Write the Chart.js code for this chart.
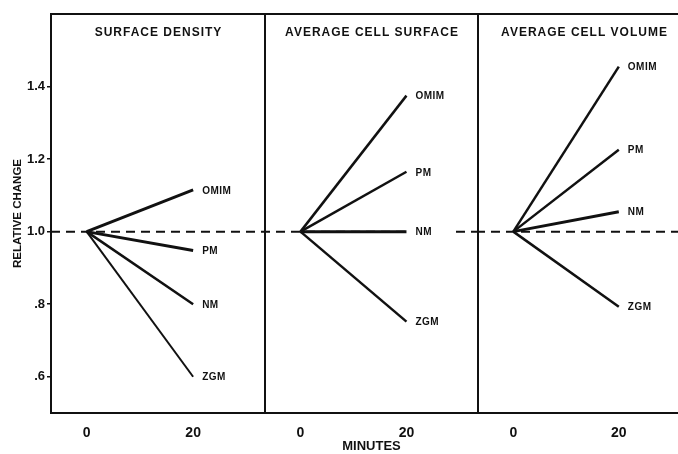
<!DOCTYPE html>
<html>
<head>
<meta charset="utf-8">
<script src="https://cdn.jsdelivr.net/npm/chart.js@4"></script>
<style>
  html, body { margin:0; padding:0; background:#fff; width:678px; height:454px; overflow:hidden; }
  .panel { position:absolute; top:0; height:454px; }
</style>
</head>
<body>
<div class="panel" id="p1" style="left:0px;width:268px"><canvas id="c1"></canvas></div>
<div class="panel" id="p2" style="left:262px;width:219px"><canvas id="c2"></canvas></div>
<div class="panel" id="p3" style="left:475px;width:215px"><canvas id="c3"></canvas></div>
<script>
// ---- data ----
const MINUTES = [0, 20];
const SERIES = ['OMIM', 'PM', 'NM', 'ZGM'];
const PANEL_TITLES = ['SURFACE DENSITY', 'AVERAGE CELL SURFACE', 'AVERAGE CELL VOLUME'];
const START_VALUE = 1.0;             // relative value at 0 minutes
const SURFACE_DENSITY = [1.115, 0.948, 0.80, 0.60];   // at 20 min
const AVG_CELL_SURFACE = [1.375, 1.165, 1.0, 0.752];  // at 20 min
const AVG_CELL_VOLUME = [1.455, 1.226, 1.055, 0.793]; // at 20 min
const Y_TICKS = [0.6, 0.8, 1.0, 1.2, 1.4];
const Y_TICK_LABELS = ['.6', '.8', '1.0', '1.2', '1.4'];
const X_TICKS = [0, 20];
const X_TICK_LABELS = ['0', '20'];
const REFERENCE = 1.0;

const FONT = "'Liberation Sans', Arial, sans-serif";
const INK = '#111';

const panelPlugin = {
  id: 'panelDecor',
  beforeDatasetsDraw(chart, args, opts) {
    const {ctx, chartArea: a, scales: {y}} = chart;
    ctx.save();
    const yr = y.getPixelForValue(REFERENCE);
    ctx.strokeStyle = INK;
    ctx.lineWidth = 2;
    ctx.setLineDash([9, 6]);
    ctx.lineDashOffset = opts.dashOffset || 0;
    ctx.beginPath();
    ctx.moveTo(a.left, yr);
    ctx.lineTo(a.right, yr);
    ctx.stroke();
    ctx.restore();
  },
  afterDatasetsDraw(chart, args, opts) {
    const {ctx, chartArea: a} = chart;
    ctx.save();
    ctx.strokeStyle = INK;
    ctx.lineWidth = 2;
    ctx.strokeRect(a.left, a.top, a.right - a.left, a.bottom - a.top);
    ctx.fillStyle = INK;
    ctx.font = 'bold 12px ' + FONT;
    if ('letterSpacing' in ctx) ctx.letterSpacing = '1px';
    ctx.textAlign = 'center';
    ctx.textBaseline = 'middle';
    ctx.fillText(opts.title, (a.left + a.right) / 2 + 0.5, a.top + 19);
    ctx.font = 'bold 10px ' + FONT;
    if ('letterSpacing' in ctx) ctx.letterSpacing = '0.5px';
    ctx.textAlign = 'left';
    chart.data.datasets.forEach((ds, i) => {
      const pts = chart.getDatasetMeta(i).data;
      const p = pts[pts.length - 1];
      const w = ctx.measureText(ds.label).width;
      ctx.fillStyle = '#fff';
      ctx.fillRect(p.x + 4, p.y - 6, w + 28, 12);
      ctx.fillStyle = INK;
      ctx.fillText(ds.label, p.x + 9, p.y + 1);
    });
    ctx.restore();
  }
};

function makeChart(id, title, values, widths, opts) {
  const datasets = SERIES.map((name, i) => ({
    label: name,
    data: [{x: MINUTES[0], y: START_VALUE}, {x: MINUTES[1], y: values[i]}],
    borderColor: INK,
    borderWidth: widths[i],
    pointRadius: 0,
    borderCapStyle: 'butt',
    fill: false,
    tension: 0
  }));
  return new Chart(document.getElementById(id), {
    type: 'line',
    data: {datasets},
    options: {
      responsive: true,
      maintainAspectRatio: false,
      animation: false,
      events: [],
      layout: {padding: opts.padding},
      plugins: {
        legend: {display: false},
        tooltip: {enabled: false},
        panelDecor: {title: title, dashOffset: opts.dashOffset}
      },
      scales: {
        x: {
          type: 'linear',
          min: -6.7,
          max: 33.5,
          afterBuildTicks: ax => { ax.ticks = X_TICKS.map(v => ({value: v})); },
          afterFit: ax => { ax.height = 41; },
          ticks: {
            color: INK,
            padding: 12,
            maxRotation: 0,
            font: {family: FONT, size: 14, weight: 'bold'},
            callback: v => X_TICK_LABELS[X_TICKS.indexOf(v)]
          },
          grid: {display: true, drawOnChartArea: false, drawTicks: false},
          border: {display: false},
          title: {
            display: !!opts.xTitle,
            text: 'MINUTES',
            color: INK,
            font: {family: FONT, size: 13, weight: 'bold'},
            padding: {top: 0, bottom: 0}
          }
        },
        y: {
          type: 'linear',
          display: opts.showY,
          min: 0.5,
          max: 1.6,
          afterBuildTicks: ax => { ax.ticks = Y_TICKS.map(v => ({value: v})); },
          afterFit: ax => { ax.width = opts.showY ? 51 : 0; },
          ticks: {
            color: INK,
            padding: 2,
            font: {family: FONT, size: 13, weight: 'bold'},
            callback: v => Y_TICK_LABELS[Y_TICKS.indexOf(v)]
          },
          grid: {drawOnChartArea: false, tickLength: 4, color: INK, lineWidth: 1.5},
          border: {display: false},
          title: {
            display: true,
            text: 'RELATIVE CHANGE',
            color: INK,
            font: {family: FONT, size: 11.5, weight: 'bold'},
            padding: {top: 11, bottom: 0}
          }
        }
      }
    },
    plugins: [panelPlugin]
  });
}

makeChart('c1', PANEL_TITLES[0], SURFACE_DENSITY, [3, 3, 2.5, 2],
  {padding: {top: 14, right: 3, left: 0, bottom: 0}, showY: true, xTitle: false, dashOffset: 0});
makeChart('c2', PANEL_TITLES[1], AVG_CELL_SURFACE, [2.5, 2.5, 3, 2.5],
  {padding: {top: 14, right: 3, left: 3, bottom: 0}, showY: false, xTitle: true, dashOffset: 4});
makeChart('c3', PANEL_TITLES[2], AVG_CELL_VOLUME, [2.5, 2.5, 3, 2.5],
  {padding: {top: 14, right: 0, left: 3, bottom: 0}, showY: false, xTitle: false, dashOffset: 2});
</script>
</body>
</html>
